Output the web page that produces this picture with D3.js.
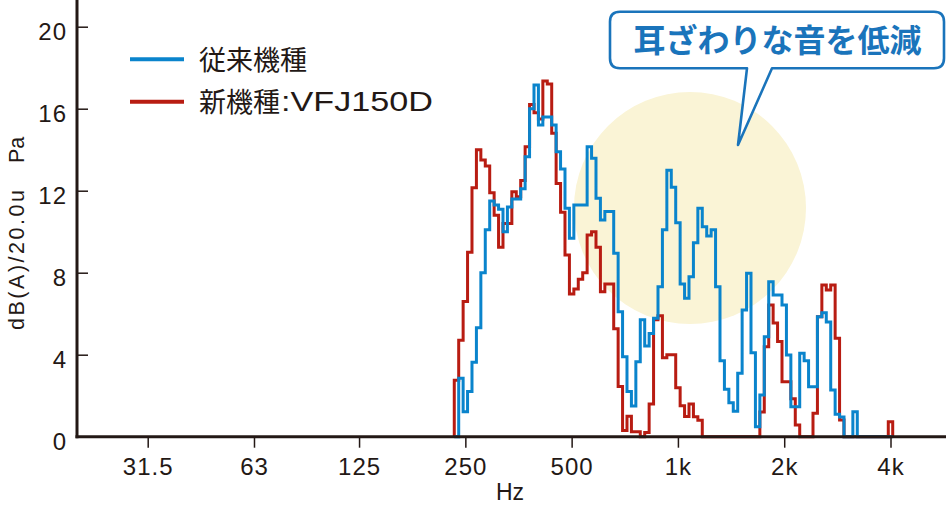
<!DOCTYPE html>
<html><head><meta charset="utf-8">
<script src="https://cdn.jsdelivr.net/npm/d3@7"></script>
<style>
html,body{margin:0;padding:0;background:#fff;}
svg{display:block;}
</style></head><body>
<svg id="chart" width="946" height="506"></svg>
<script>
// ---- data ----
const freqTicks = [31.5, 63, 125, 250, 500, 1000, 2000, 4000];
const freqTickLabels = ["31.5", "63", "125", "250", "500", "1k", "2k", "4k"];
const levelTicks = [0, 4, 8, 12, 16, 20];
const seriesNames = ["従来機種", "新機種:VFJ150D"];
const calloutText = "耳ざわりな音を低減";
const yTitleParts = ["dB(A)/20.0u", "Pa"];
const xTitle = "Hz";
// 1/24-octave bands, band index k relative to 250 Hz, first band k = -2
const bandsPerOctave = 24;
const bandRefHz = 250;
const firstBand = -2;
// 従来機種 (conventional), dB per band, k = -2 .. 96
const conventional = [
  0, 2.85, 1.22, 2.2, 3.63, 5.32, 8.0, 10.1, 11.5, 11.3,
  11.1, 10.0, 11.2, 11.6, 11.6, 12.1, 13.66, 16.0, 17.16, 15.2,
  15.6, 15.6, 15.2, 13.9, 13.06, 11.14, 9.68, 11.3, 11.3, 11.3,
  14.15, 13.58, 11.63, 10.57, 10.98, 10.98, 8.95, 6.1, 3.9, 2.2,
  1.5, 3.66, 5.7, 4.42, 5.04, 5.78, 7.32, 10.1, 13.0, 12.17,
  10.44, 7.45, 6.75, 7.8, 9.46, 11.14, 10.24, 9.79, 10.1, 7.32,
  3.7, 2.31, 1.66, 1.24, 3.09, 6.18, 7.97, 4.1, 0.49, 2.03,
  4.88, 7.56, 6.91, 6.91, 6.42, 3.99, 1.46, 1.46, 4.07, 3.7,
  2.44, 2.44, 5.85, 6.05, 5.6, 2.28, 1.1, 0.96, 0, 0,
  1.22, 0, 0, 0, 0, 0, 0, 0, 0
];
// 新機種 VFJ150D, dB per band, k = -2 .. 96
const newModel = [
  2.75, 4.7, 6.6, 9.0, 12.15, 14.0, 13.5, 13.2, 11.9, 10.8,
  9.24, 10.4, 10.4, 11.95, 11.7, 12.5, 14.15, 16.2, 15.8, 15.5,
  17.35, 17.2, 14.8, 12.35, 10.95, 8.86, 6.96, 7.2, 7.68, 8.0,
  9.84, 10.0, 9.24, 7.07, 7.45, 7.45, 5.27, 2.45, 0.3, 1.0,
  0.24, 0.24, 0, 0.2, 1.6, 5.7, 5.9, 3.85, 4.0, 4.0,
  2.39, 1.51, 0.99, 1.6, 0.97, 0.8, 0, 0, 0, 0,
  0, 0, 0, 0, 0, 0, 0, 0, 0, 1.2,
  4.39, 6.42, 5.55, 4.65, 2.68, 2.68, 1.85, 0.57, 0, 0,
  0, 1.14, 5.85, 7.4, 7.16, 7.4, 4.8, 0.81, 0, 0,
  0, 0, 0, 0, 0, 0, 0, 0, 0.73
];

// ---- styles ----
const ink = "#231815";
const blue = "#0a84cc";
const red = "#b81c12";
const calloutBlue = "#1a74bb";
const latin = "'Liberation Sans', Arial, Helvetica, sans-serif";
const cjk = "'Noto Sans CJK JP', 'Liberation Sans', sans-serif";

const svg = d3.select("#chart");
const x = d3.scaleLog().domain([31.5, 4000]).range([147.7, 890.5]);
const y = d3.scaleLinear().domain([0, 20]).range([436.7, 26.7]);
const axisLeftX = 77, plotRight = 946;

// highlight circle
svg.append("circle").attr("cx", 690).attr("cy", 208).attr("r", 116).attr("fill", "#faf4d6");

// callout
svg.append("path")
  .attr("d", "M620,11.7 H934 Q944,11.7 944,21.7 V58.3 Q944,68.3 934,68.3 H772 L738,145 L747,68.3 H620 Q610,68.3 610,58.3 V21.7 Q610,11.7 620,11.7 Z")
  .attr("fill", "#fff").attr("stroke", calloutBlue).attr("stroke-width", 2.6).attr("stroke-linejoin", "round");
svg.append("text").attr("x", 777.5).attr("y", 51.5).attr("text-anchor", "middle")
  .attr("font-family", cjk).attr("font-weight", "bold").attr("font-size", 32)
  .attr("fill", calloutBlue).text(calloutText);

// step series
function stepPoints(levels) {
  const pts = [];
  levels.forEach((v, i) => {
    const k = firstBand + i;
    const lo = bandRefHz * Math.pow(2, (k - 0.5) / bandsPerOctave);
    const hi = bandRefHz * Math.pow(2, (k + 0.5) / bandsPerOctave);
    if (i === 0) pts.push([lo, 0]);
    pts.push([lo, v], [hi, v]);
    if (i === levels.length - 1) pts.push([hi, 0]);
  });
  return pts;
}
const line = d3.line().x(d => x(d[0])).y(d => y(d[1]));
const series = [
  {name: seriesNames[1], values: newModel, color: red},
  {name: seriesNames[0], values: conventional, color: blue}
];
svg.append("g").selectAll("path").data(series).join("path")
  .attr("d", d => line(stepPoints(d.values)))
  .attr("fill", "none").attr("stroke", d => d.color)
  .attr("stroke-width", 3).attr("stroke-linejoin", "miter");

// axes
const xAxis = d3.axisBottom(x).tickValues(freqTicks)
  .tickFormat((d, i) => freqTickLabels[i]).tickSize(11).tickPadding(10);
const gx = svg.append("g").attr("transform", `translate(0,${y(0)})`).call(xAxis);
gx.select(".domain").remove();
gx.selectAll(".tick line").attr("stroke", ink).attr("stroke-width", 1.5);
gx.selectAll(".tick text").attr("fill", ink).attr("font-family", latin)
  .attr("font-size", 24).attr("letter-spacing", 1);

const yAxis = d3.axisLeft(y).tickValues(levelTicks).tickSize(-11).tickPadding(10);
const gy = svg.append("g").attr("transform", `translate(${axisLeftX},0)`).call(yAxis);
gy.select(".domain").remove();
gy.selectAll(".tick line").attr("stroke", ink).attr("stroke-width", 1.5);
gy.selectAll(".tick text").attr("fill", ink).attr("font-family", latin)
  .attr("font-size", 24).attr("letter-spacing", 1).attr("y", 5.5);

svg.append("line").attr("x1", axisLeftX).attr("x2", axisLeftX).attr("y1", 0).attr("y2", y(0) + 1.5)
  .attr("stroke", ink).attr("stroke-width", 3);
svg.append("line").attr("x1", axisLeftX - 1.5).attr("x2", plotRight).attr("y1", y(0)).attr("y2", y(0))
  .attr("stroke", ink).attr("stroke-width", 3);

// axis titles
svg.append("text").attr("transform", "translate(24,330) rotate(-90)")
  .attr("text-anchor", "start").attr("font-family", latin).attr("font-size", 21.5)
  .attr("textLength", 140).attr("lengthAdjust", "spacing")
  .attr("fill", ink).text(yTitleParts[0]);
svg.append("text").attr("transform", "translate(24,163) rotate(-90)")
  .attr("text-anchor", "start").attr("font-family", latin).attr("font-size", 21.5)
  .attr("fill", ink).text(yTitleParts[1]);
svg.append("text").attr("x", 510).attr("y", 500).attr("text-anchor", "middle")
  .attr("font-family", latin).attr("font-size", 23).attr("fill", ink).text(xTitle);

// legend
const legendItems = [
  {label: seriesNames[0], color: blue, ly: 59.3},
  {label: seriesNames[1], color: red, ly: 101.7}
];
const lg = svg.append("g");
legendItems.forEach(it => {
  lg.append("line").attr("x1", 130).attr("x2", 184).attr("y1", it.ly).attr("y2", it.ly)
    .attr("stroke", it.color).attr("stroke-width", 4);
  const m = it.label.match(/^([^:]*)(:.*)?$/);
  lg.append("text").attr("x", 199).attr("y", it.ly + 10.3)
    .attr("font-family", cjk).attr("font-size", 27).attr("fill", ink).text(m[1]);
  if (m[2]) {
    lg.append("text").attr("x", 281).attr("y", it.ly + 9.5)
      .attr("font-family", latin).attr("font-size", 27).attr("fill", ink)
      .attr("textLength", 152).attr("lengthAdjust", "spacingAndGlyphs").text(m[2]);
  }
});
</script>
</body></html>
